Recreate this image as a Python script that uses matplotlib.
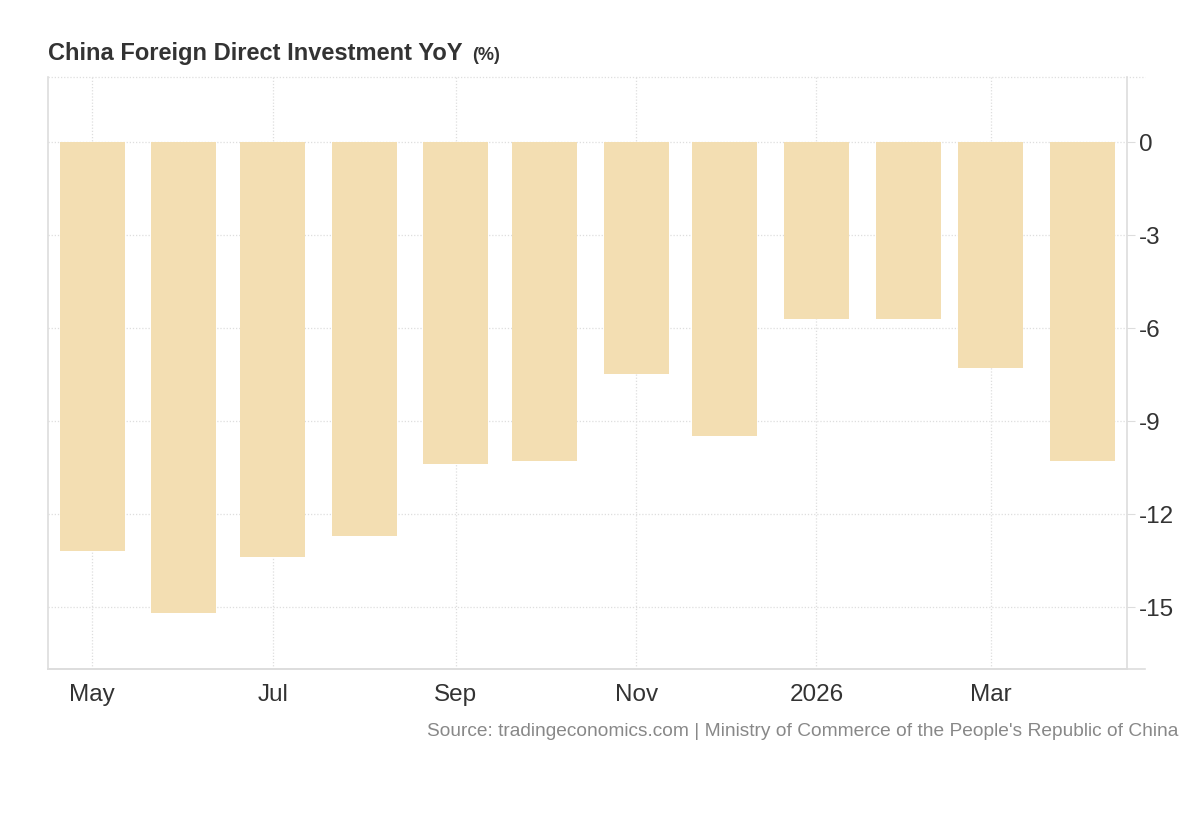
import datetime as dt
import matplotlib
matplotlib.use("Agg")
import matplotlib.pyplot as plt

plt.rcParams["font.family"] = ["Liberation Sans", "DejaVu Sans"]

# Monatswerte (YoY, %)
months = ["2025-05", "2025-06", "2025-07", "2025-08", "2025-09", "2025-10",
          "2025-11", "2025-12", "2026-01", "2026-02", "2026-03", "2026-04"]
values = [-13.2, -15.2, -13.4, -12.7, -10.4, -10.3, -7.5, -9.5, -5.7, -5.7, -7.3, -10.3]

tick_months = ["2025-05", "2025-07", "2025-09", "2025-11", "2026-01", "2026-03"]
tick_labels = ["May", "Jul", "Sep", "Nov", "2026", "Mar"]
y_ticks = [0, -3, -6, -9, -12, -15]

dates = [dt.datetime.strptime(m, "%Y-%m") for m in months]
tick_dates = [dt.datetime.strptime(m, "%Y-%m") for m in tick_months]

fig = plt.figure(figsize=(12, 8.2), dpi=100)
ax = fig.add_axes([0.04, 0.183, 0.899, 0.722])

ax.bar(dates, values, width=22, color="#F3DEB2", zorder=2)

ax.set_xlim(dt.datetime(2025, 4, 16), dt.datetime(2026, 4, 16))
ax.set_ylim(-17.0, 2.1)

ax.set_xticks(tick_dates)
ax.set_xticklabels(tick_labels)
ax.set_yticks(y_ticks)
ax.set_yticklabels([str(v) for v in y_ticks])
ax.yaxis.tick_right()

grid_style = dict(color="#dedede", linestyle=(0, (1, 1.5)), linewidth=0.9)
ax.grid(True, zorder=0, **grid_style)
ax.axhline(2.1, xmax=1.017, clip_on=False, zorder=0, **grid_style)
ax.axhline(-17.0, xmax=1.017, clip_on=False, color="#dddddd", linewidth=1.2, zorder=1)

ax.spines["top"].set_visible(False)
for side in ["left", "right", "bottom"]:
    ax.spines[side].set_color("#dddddd")
    ax.spines[side].set_linewidth(1.2)

ax.tick_params(axis="x", length=0, pad=10, labelsize=17.5, labelcolor="#333333")
ax.tick_params(axis="y", length=6, color="#dddddd", pad=3, labelsize=17.5, labelcolor="#333333")

title = fig.text(0.04, 0.927, "China Foreign Direct Investment YoY", fontsize=17, fontweight="bold",
                 color="#333333", va="baseline")
ax.annotate("(%)", xy=(1, 0), xycoords=title, xytext=(7, 3.5), textcoords="offset points",
            fontsize=13, fontweight="bold", color="#333333", va="baseline", ha="left")

fig.text(0.982, 0.102, "Source: tradingeconomics.com | Ministry of Commerce of the People's Republic of China",
         fontsize=13.8, color="#888888", ha="right", va="baseline")

fig.savefig("out.png", dpi=100, facecolor="white")
